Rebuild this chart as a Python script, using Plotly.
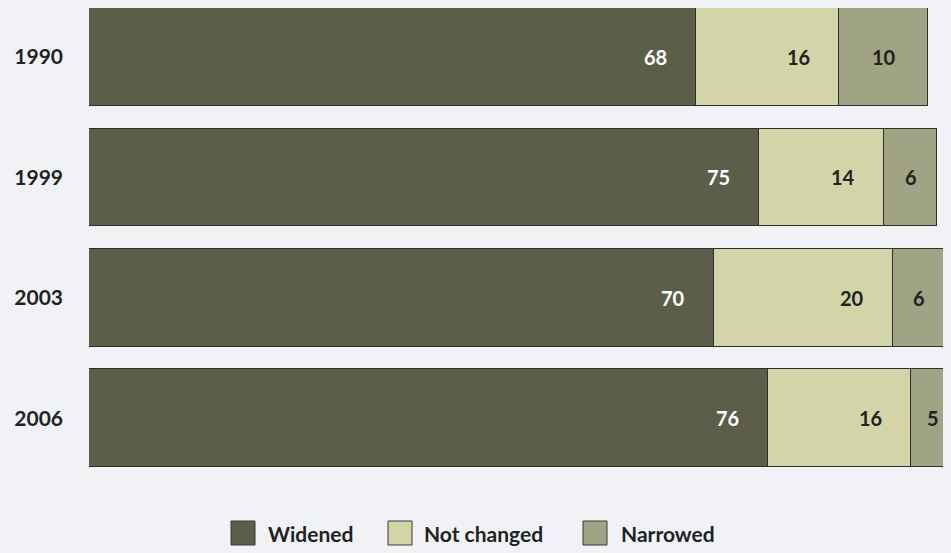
import plotly.graph_objects as go

years = ["1990", "1999", "2003", "2006"]
series_names = ["Widened", "Not changed", "Narrowed"]
widened = [68, 75, 70, 76]
not_changed = [16, 14, 20, 16]
narrowed = [10, 6, 6, 5]

colors = ["#5c5e4a", "#d3d5a8", "#a0a384"]
label_colors = ["#ffffff", "#222222", "#222222"]
bg = "#f1f2f5"
FONT = "Lato"

ypos = list(range(len(years)))
series = [widened, not_changed, narrowed]

fig = go.Figure()
for name, vals, col in zip(series_names, series, colors):
    fig.add_trace(go.Bar(
        y=ypos, x=vals, name=name, orientation="h",
        marker=dict(color=col, line=dict(color="#2e2e2a", width=1)),
        width=0.813, showlegend=False, hoverinfo="x+name",
    ))

# value labels
annotations = []
for i in range(len(years)):
    start = 0
    for s, (vals, tc) in enumerate(zip(series, label_colors)):
        v = vals[i]
        if s < 2:
            annotations.append(dict(x=start + v, y=ypos[i], xref="x", yref="y",
                                    text=f"<b>{v}</b>", showarrow=False, xanchor="right",
                                    xshift=-27, font=dict(family=FONT, size=20, color=tc)))
        else:
            annotations.append(dict(x=start + v / 2, y=ypos[i], xref="x", yref="y",
                                    text=f"<b>{v}</b>", showarrow=False, xanchor="center",
                                    font=dict(family=FONT, size=20, color=tc)))
        start += v

# manual legend (positions given in page pixels; page has an 8px body margin)
PL, PT, W_PLOT, H_PLOT = 89, 8, 862, 480
box_x = [231, 388, 583]
text_x = [266, 422, 619]
shapes = []
def px(x):
    return (x - PL) / W_PLOT
def py(y):
    return (PT + H_PLOT - y) / H_PLOT
for name, col, bx, tx in zip(series_names, colors, box_x, text_x):
    shapes.append(dict(type="rect", xref="paper", yref="paper",
                       x0=px(bx), x1=px(bx + 24), y0=py(545), y1=py(521),
                       fillcolor=col, line=dict(color="#3a3a36", width=1)))
    annotations.append(dict(x=px(tx), y=py(533), xref="paper", yref="paper",
                            text=f"<b>{name}</b>", showarrow=False, xanchor="left", yanchor="middle",
                            font=dict(family=FONT, size=21, color="#222222")))

fig.update_layout(
    width=943, height=545,
    margin=dict(l=81, r=0, t=0, b=65),
    paper_bgcolor=bg, plot_bgcolor=bg,
    barmode="stack", bargap=0,
    showlegend=False,
    annotations=annotations, shapes=shapes,
    font=dict(family=FONT, color="#222222"),
)
fig.update_xaxes(range=[0, 96.53], visible=False, showgrid=False, zeroline=False, fixedrange=True)
fig.update_yaxes(range=[3.577, -0.4066], tickvals=ypos, ticktext=[f"<b>{y}</b>" for y in years],
                 showgrid=False, zeroline=False, ticks="", ticklabelstandoff=25,
                 tickfont=dict(family=FONT, size=21, color="#222222"), fixedrange=True)

fig.write_html("out.html", post_script=f"document.body.style.background='{bg}';")
